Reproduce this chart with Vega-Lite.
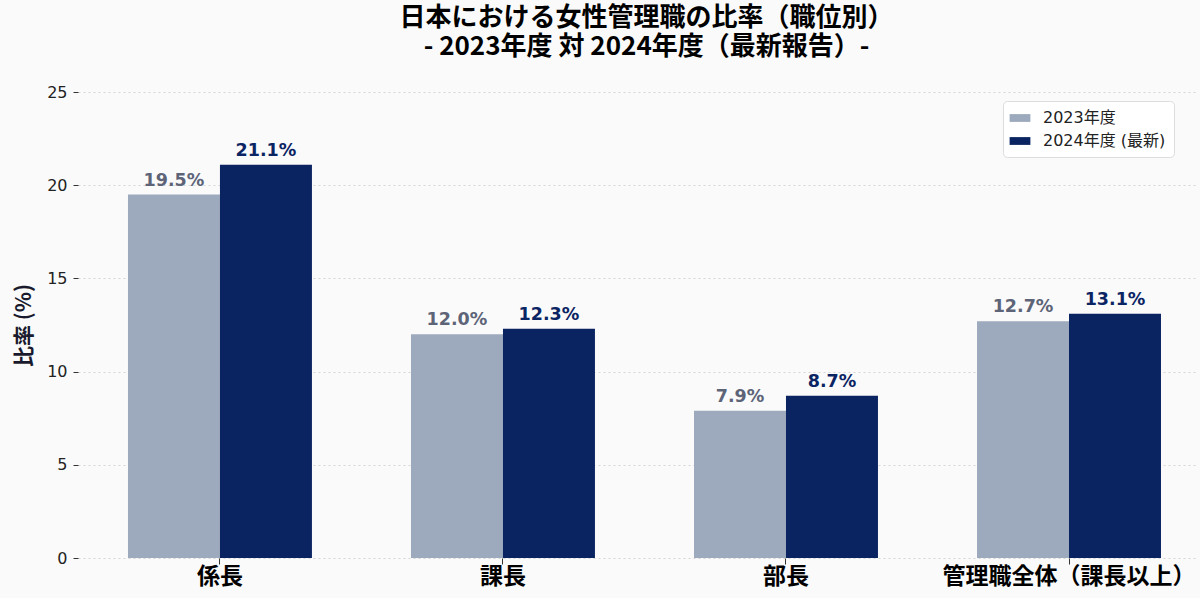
{
  "$schema": "https://vega.github.io/schema/vega-lite/v6.json",
  "width": 1117,
  "height": 466,
  "autosize": "none",
  "padding": {"left": 78, "top": 92, "right": 5, "bottom": 40},
  "background": "#FAFAFA",
  "title": {
    "text": "日本における女性管理職の比率（職位別）",
    "subtitle": "- 2023年度 対 2024年度（最新報告）-",
    "font": "Noto Sans CJK JP",
    "fontSize": 26,
    "fontWeight": "bold",
    "color": "#000000",
    "subtitleFont": "Noto Sans CJK JP",
    "subtitleFontSize": 26,
    "subtitleFontWeight": "bold",
    "subtitleColor": "#000000",
    "subtitlePadding": 3,
    "anchor": "middle",
    "dx": 10,
    "offset": 24
  },
  "data": {
    "values": [
      {"position": "係長", "year": "2023年度", "rate": 19.5},
      {"position": "係長", "year": "2024年度 (最新)", "rate": 21.1},
      {"position": "課長", "year": "2023年度", "rate": 12.0},
      {"position": "課長", "year": "2024年度 (最新)", "rate": 12.3},
      {"position": "部長", "year": "2023年度", "rate": 7.9},
      {"position": "部長", "year": "2024年度 (最新)", "rate": 8.7},
      {"position": "管理職全体（課長以上）", "year": "2023年度", "rate": 12.7},
      {"position": "管理職全体（課長以上）", "year": "2024年度 (最新)", "rate": 13.1}
    ]
  },
  "transform": [
    {"calculate": "format(datum.rate, '.1f') + '%'", "as": "label"}
  ],
  "encoding": {
    "x": {
      "field": "position",
      "type": "nominal",
      "sort": null,
      "title": null,
      "scale": {"paddingInner": 0.35, "paddingOuter": 0.1484, "align": 0.595},
      "axis": {
        "labelAngle": 0,
        "labelFont": "Noto Sans CJK JP",
        "labelFontSize": 23,
        "labelFontWeight": "bold",
        "labelColor": "#000000",
        "labelPadding": 1,
        "labelLimit": 0,
        "domain": false,
        "tickColor": "#333333",
        "tickSize": 6,
        "grid": false
      }
    },
    "xOffset": {"field": "year", "type": "nominal", "sort": null},
    "y": {
      "field": "rate",
      "type": "quantitative",
      "title": "比率 (%)",
      "scale": {"domain": [0, 25], "nice": false},
      "axis": {
        "values": [0, 5, 10, 15, 20, 25],
        "labelFont": "DejaVu Sans",
        "labelFontSize": 16,
        "labelColor": "#222222",
        "labelPadding": 6,
        "tickColor": "#333333",
        "tickSize": 5,
        "domain": false,
        "grid": true,
        "gridColor": "#CCCCCC",
        "gridDash": [2, 3],
        "gridWidth": 0.8,
        "titleFont": "Noto Sans CJK JP",
        "titleFontSize": 21,
        "titleFontWeight": "bold",
        "titleColor": "#1a1a2e",
        "titlePadding": 12
      }
    }
  },
  "layer": [
    {
      "mark": {"type": "bar"},
      "encoding": {
        "color": {
          "field": "year",
          "type": "nominal",
          "sort": null,
          "scale": {"range": ["#9DA9BC", "#0A2361"]},
          "legend": {
            "title": null,
            "orient": "none",
            "legendX": 925,
            "legendY": 9,
            "labelFont": "DejaVu Sans, Noto Sans CJK JP",
            "labelFontSize": 16,
            "labelColor": "#222222",
            "symbolType": "M-1.2,-0.45L1.2,-0.45L1.2,0.45L-1.2,0.45Z",
            "symbolSize": 300,
            "symbolStrokeWidth": 0,
            "rowPadding": 6,
            "padding": 8,
            "fillColor": "#FFFFFF",
            "strokeColor": "#DDDDDD",
            "cornerRadius": 4,
            "labelOffset": 14
          }
        }
      }
    },
    {
      "mark": {
        "type": "text",
        "baseline": "bottom",
        "dy": -5,
        "font": "DejaVu Sans",
        "fontSize": 17.5,
        "fontWeight": "bold"
      },
      "encoding": {
        "text": {"field": "label"},
        "color": {
          "field": "year",
          "type": "nominal",
          "sort": null,
          "scale": {"range": ["#5D6478", "#0B2463"]},
          "legend": null
        }
      }
    }
  ],
  "resolve": {"scale": {"color": "independent"}},
  "config": {
    "view": {"stroke": null}
  }
}
